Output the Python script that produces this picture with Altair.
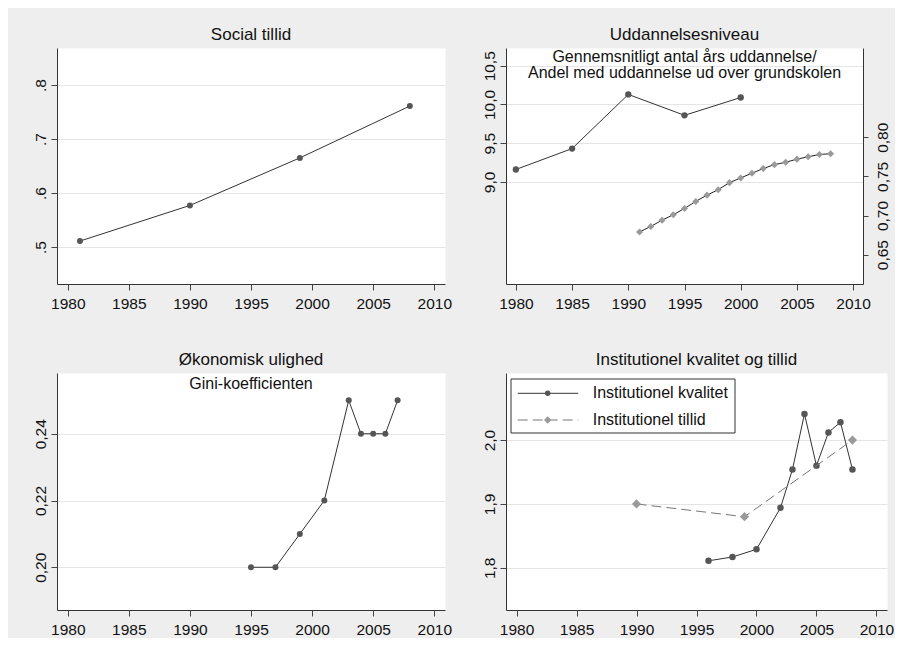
import altair as alt
import pandas as pd

# ---------------- data ----------------
social_years = [1981, 1990, 1999, 2008]
social_tillid = [0.511, 0.577, 0.665, 0.761]

udd_years = [1980, 1985, 1990, 1995, 2000]
udd_aar = [9.16, 9.43, 10.13, 9.86, 10.09]

andel_years = [1991, 1992, 1993, 1994, 1995, 1996, 1997, 1998, 1999,
               2000, 2001, 2002, 2003, 2004, 2005, 2006, 2007, 2008]
andel_vals = [0.679, 0.686, 0.694, 0.701, 0.709, 0.718, 0.726, 0.733, 0.742,
              0.748, 0.754, 0.760, 0.765, 0.768, 0.772, 0.775, 0.778, 0.779]

gini_years = [1995, 1997, 1999, 2001, 2003, 2004, 2005, 2006, 2007]
gini_vals = [0.20, 0.20, 0.21, 0.22, 0.25, 0.24, 0.24, 0.24, 0.25]

kval_years = [1996, 1998, 2000, 2002, 2003, 2004, 2005, 2006, 2007, 2008]
kval_vals = [1.811, 1.817, 1.829, 1.894, 1.954, 2.041, 1.960, 2.012, 2.028, 1.954]

tillid_years = [1990, 1999, 2008]
tillid_vals = [1.900, 1.880, 2.000]

x_ticks = [1980, 1985, 1990, 1995, 2000, 2005, 2010]
y1_ticks = [0.5, 0.6, 0.7, 0.8]
y2_ticks = [9.0, 9.5, 10.0, 10.5]
y2r_ticks = [0.65, 0.70, 0.75, 0.80]
y3_ticks = [0.20, 0.22, 0.24]
y4_ticks = [1.8, 1.9, 2.0]

panel_titles = ["Social tillid", "Uddannelsesniveau",
                "Økonomisk ulighed", "Institutionel kvalitet og tillid"]
udd_note = ["Gennemsnitligt antal års uddannelse/",
            "Andel med uddannelse ud over grundskolen"]
gini_note = ["Gini-koefficienten"]
legend_labels = ["Institutionel kvalitet", "Institutionel tillid"]

# ---------------- styling ----------------
FONT = "Liberation Sans"
X_DOMAIN = [1979.12, 2010.88]
LINE_DARK = "#333333"
MARK_DARK = "#555555"
MARK_LIGHT = "#9a9a9a"
LINE_LIGHT = "#777777"

def x_enc():
    return alt.X("year:Q",
                 scale=alt.Scale(domain=X_DOMAIN, nice=False, zero=False),
                 axis=alt.Axis(values=x_ticks, format="d", title=None, grid=False,
                               tickSize=6, labelPadding=6, labelFlush=False,
                               labelAngle=0))

def y_left(domain, ticks, expr):
    return alt.Y("value:Q",
                 scale=alt.Scale(domain=domain, nice=False, zero=False),
                 axis=alt.Axis(values=ticks, labelExpr=expr, title=None, orient="left",
                               grid=True, labelAngle=270, labelAlign="center",
                               labelBaseline="alphabetic", tickSize=6, labelPadding=6,
                               minExtent=40, labelFlush=False))

def series(years, vals, y, line_color, mark_color, shape, size, dash=None):
    df = pd.DataFrame({"year": years, "value": vals})
    base = alt.Chart(df).encode(x=x_enc(), y=y)
    if dash:
        line = base.mark_line(color=line_color, strokeWidth=1, strokeDash=dash)
    else:
        line = base.mark_line(color=line_color, strokeWidth=1)
    pts = base.mark_point(filled=True, shape=shape, size=size, color=mark_color, opacity=1)
    return alt.layer(line, pts)

def note(text, x, y):
    return alt.Chart(pd.DataFrame({"t": [text]})).mark_text(
        font=FONT, fontSize=16, color="#111111", align="center", baseline="middle"
    ).encode(text="t:N", x=alt.value(x), y=alt.value(y))

W1, H1 = 388, 236
W2 = 357
W4 = 381
H3 = 237

# Panel 1
p1 = series(social_years, social_tillid,
            y_left([0.4315, 0.8685], y1_ticks,
                   "replace(format(datum.value, '.1f'), '0.', '.')"),
            LINE_DARK, MARK_DARK, "circle", 36
            ).properties(width=W1, height=H1, title=panel_titles[0])

# Panel 2 (dual axis)
left2 = series(udd_years, udd_aar,
               y_left([7.68, 10.73], y2_ticks,
                      "replace(format(datum.value, '.1f'), '.', ',')"),
               LINE_DARK, MARK_DARK, "circle", 40)
y_right = alt.Y("value:Q",
                scale=alt.Scale(domain=[0.6125, 0.914], nice=False, zero=False),
                axis=alt.Axis(values=y2r_ticks, title=None, orient="right", grid=False,
                              labelExpr="replace(format(datum.value, '.2f'), '.', ',')",
                              labelAngle=270, labelAlign="center", labelBaseline="top",
                              tickSize=5, labelPadding=7, labelFlush=False))
right2 = series(andel_years, andel_vals, y_right, "#222222", MARK_LIGHT, "diamond", 50)
p2 = alt.layer(left2, right2,
               note(udd_note[0], W2 / 2, 8.7),
               note(udd_note[1], W2 / 2, 25.3)
               ).resolve_scale(y="independent").properties(
    width=W2, height=H1, title=panel_titles[1])

# Panel 3
p3 = alt.layer(
    series(gini_years, gini_vals,
           y_left([0.1872, 0.2582], y3_ticks,
                  "replace(format(datum.value, '.2f'), '.', ',')"),
           LINE_DARK, MARK_DARK, "circle", 36),
    note(gini_note[0], W1 / 2, 10.7)
).properties(width=W1, height=H3, title=panel_titles[2])

# Panel 4
y4 = y_left([1.734, 2.105], y4_ticks, "replace(format(datum.value, '.1f'), '.', ',')")
kval = series(kval_years, kval_vals, y4, LINE_DARK, MARK_DARK, "circle", 42)
till = series(tillid_years, tillid_vals, y4, LINE_LIGHT, MARK_LIGHT, "diamond", 85, dash=[10, 5])

leg_df = pd.DataFrame({"label": legend_labels})
leg_box = alt.Chart(pd.DataFrame({"b": [1]})).mark_rect(
    fill="white", stroke="#333333", strokeWidth=1
).encode(x=alt.value(5), x2=alt.value(229), y=alt.value(6), y2=alt.value(60))
leg_rule1 = alt.Chart(leg_df.iloc[[0]]).mark_rule(color=LINE_DARK, strokeWidth=1).encode(
    x=alt.value(11.7), x2=alt.value(72.3), y=alt.value(20.3))
leg_rule2 = alt.Chart(leg_df.iloc[[1]]).mark_rule(color=LINE_LIGHT, strokeWidth=1,
                                                  strokeDash=[10, 5]).encode(
    x=alt.value(11.7), x2=alt.value(72.3), y=alt.value(47))
leg_pt1 = alt.Chart(leg_df.iloc[[0]]).mark_point(filled=True, shape="circle", size=30,
                                                 color=MARK_DARK, opacity=1).encode(
    x=alt.value(41.7), y=alt.value(20.3))
leg_pt2 = alt.Chart(leg_df.iloc[[1]]).mark_point(filled=True, shape="diamond", size=55,
                                                 color=MARK_LIGHT, opacity=1).encode(
    x=alt.value(41.7), y=alt.value(47))
leg_txt1 = alt.Chart(leg_df.iloc[[0]]).mark_text(
    font=FONT, fontSize=16, color="#111111", align="left", baseline="middle"
).encode(text="label:N", x=alt.value(86.7), y=alt.value(20.3))
leg_txt2 = alt.Chart(leg_df.iloc[[1]]).mark_text(
    font=FONT, fontSize=16, color="#111111", align="left", baseline="middle"
).encode(text="label:N", x=alt.value(86.7), y=alt.value(47))

p4 = alt.layer(kval, till, leg_box, leg_rule1, leg_rule2, leg_pt1, leg_pt2,
               leg_txt1, leg_txt2).properties(width=W4, height=H3, title=panel_titles[3])

top = alt.hconcat(p1, p2, spacing=13)
bottom = alt.hconcat(p3, p4, spacing=13)

chart = alt.vconcat(top, bottom, spacing=38).configure(
    background="#eeeeee",
    padding={"left": 8, "top": 17, "right": 0, "bottom": 0},
    font=FONT,
).configure_view(
    fill="white", stroke="transparent"
).configure_axis(
    labelFont=FONT, labelFontSize=15.5, labelColor="#111111",
    domainColor="#333333", domainWidth=1, tickColor="#444444", tickWidth=1,
    gridColor="#e4e4e4", gridWidth=1
).configure_title(
    font=FONT, fontSize=17, fontWeight="normal", color="#111111",
    anchor="middle", baseline="alphabetic", offset=4, frame="group"
)

chart.save("out.html", embed_options={"renderer": "svg", "actions": False})
